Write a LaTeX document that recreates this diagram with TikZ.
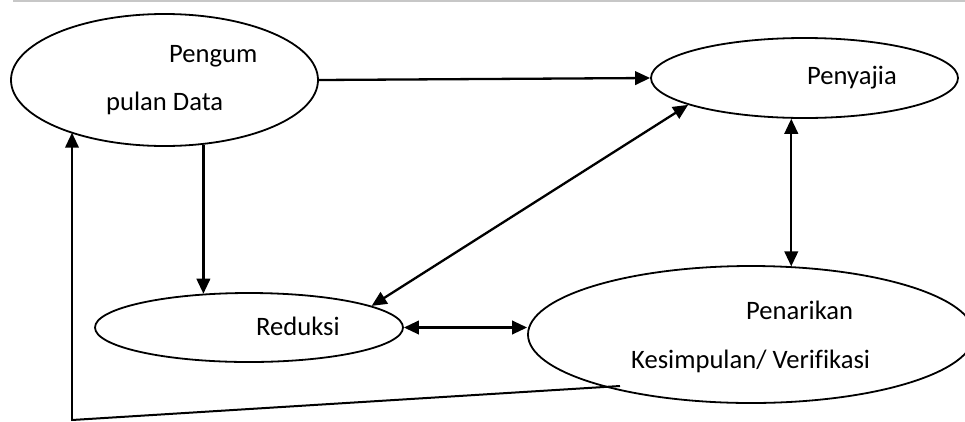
\documentclass[tikz,border=0pt]{standalone}
\usepackage{fontspec}
\setmainfont[Ligatures=NoCommon]{Carlito}
\usetikzlibrary{shapes.geometric,arrows.meta,calc}

\tikzset{
  stage/.style={draw, ellipse, line width=1.8pt, inner sep=0pt},
  label/.style={anchor=base west, inner sep=0pt, font=\fontsize{26.6}{30}\selectfont},
  arr/.style={line width=2.3pt, -{Triangle[length=15pt,width=13.5pt]}},
  biarr/.style={line width=2.3pt, {Triangle[length=15pt,width=13.5pt]}-{Triangle[length=15pt,width=13.5pt]}},
  loopline/.style={line width=2pt}
}

\begin{document}
\begin{tikzpicture}[x=1pt, y=-1pt]
  \useasboundingbox (0,0) rectangle (965,421);
  \clip (0,0) rectangle (965,421);

  % rule along the top edge
  \draw[line width=2pt, color=black!22] (13,1) -- (965,1);

  % the four stages
  \node[stage, minimum width=307pt, minimum height=132pt] (peng) at (164.5,80) {};
  \node[stage, minimum width=307pt, minimum height=80pt]  (saji) at (804.5,78) {};
  \node[stage, minimum width=308pt, minimum height=69pt]  (red)  at (249,327.5) {};
  \node[stage, minimum width=446pt, minimum height=137pt] (pen)  at (751,334.5) {};

  % stage texts
  \node[label] (t1a) at (169,62)  {Pengum};
  \node[label] (t1b) at (106,110) {pulan Data};
  \node[label] (t2)  at (807,84)  {Penyajia};
  \node[label] (t3)  at (256,335) {Reduksi};
  \node[label] (t4a) at (746,319) {Penarikan};
  \node[label] (t4b) at (631,368) {Kesimpulan/ Verifikasi};

  % connectors between stages
  \draw[arr]   (peng.east) -- (saji.west);
  \draw[arr]   (peng.-59) -- (peng.-59 |- red.144);
  \draw[biarr] (saji.-108) -- (saji.-108 |- pen.58.7);
  \draw[biarr] (red.10.3) -- (saji.193);
  \draw[biarr] (red.east) -- (red.east -| pen.west);

  % feedback loop back to the first stage
  \coordinate (fbstart)  at (620,386);
  \coordinate (fbcorner) at (72,420);
  \coordinate (fbfoot)   at (72,421);
  \draw[loopline] (fbstart) -- (fbcorner);
  \draw[arr] (fbfoot) -- (fbfoot |- peng.209.3);
\end{tikzpicture}
\end{document}
